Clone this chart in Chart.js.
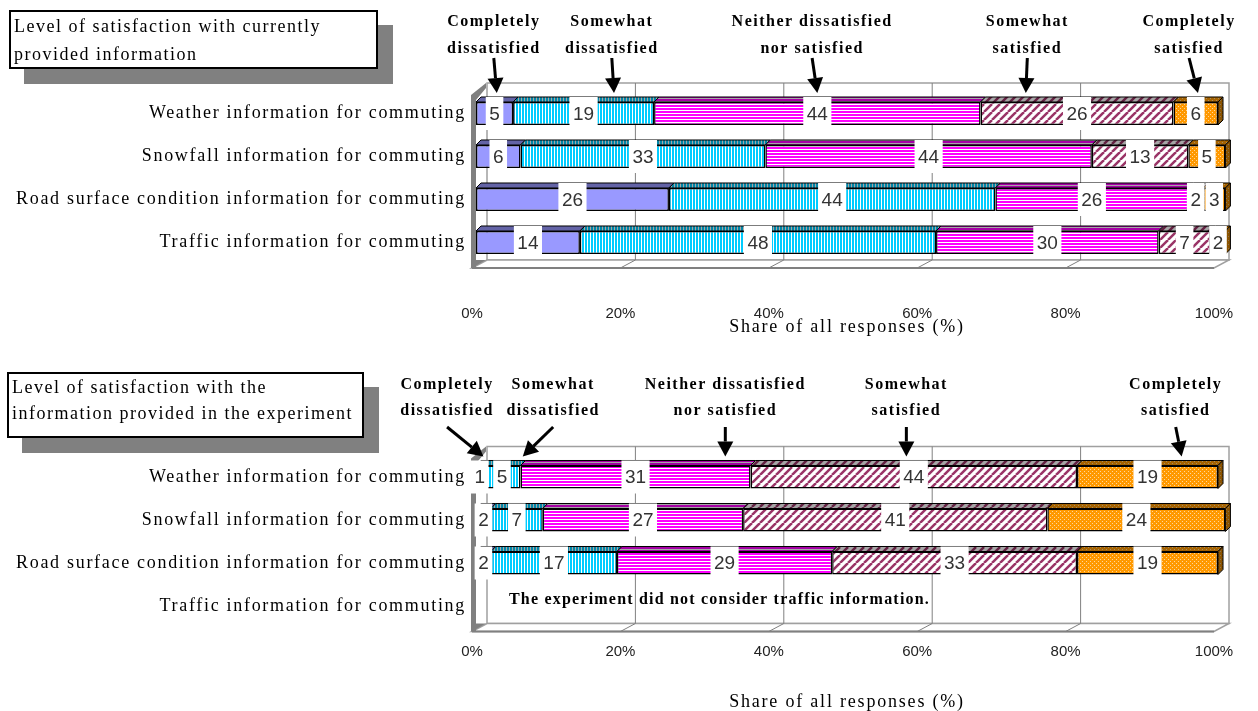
<!DOCTYPE html>
<html>
<head>
<meta charset="utf-8">
<title>Satisfaction with commuting information</title>
<script src="https://cdn.jsdelivr.net/npm/chart.js@4.4.0/dist/chart.umd.min.js"></script>
<style>
  html, body { margin: 0; padding: 0; background: #fff; }
  body { width: 1258px; height: 711px; position: relative; overflow: hidden; }
  .panel { position: absolute; left: 0; width: 1258px; }
  .panel canvas { display: block; }
  .title-box {
    position: absolute; z-index: 2; box-sizing: border-box;
    background: #fff; border: 2px solid #000; box-shadow: 15px 15px 0 #808080;
    font: 18px 'Liberation Serif', serif; letter-spacing: 1.5px; line-height: 28px;
    padding: 0 0 0 3px; color: #000; white-space: nowrap;
  }
</style>
</head>
<body>
<div class="panel" style="top:0;height:345px"><canvas id="chart-current" width="1258" height="345"></canvas></div>
<div class="panel" style="top:355px;height:356px"><canvas id="chart-experiment" width="1258" height="356"></canvas></div>
<div class="title-box" id="title-current" style="left:9px;top:10px;width:369px;height:59px;"></div>
<div class="title-box" id="title-experiment" style="left:7px;top:372px;width:357px;height:66px;line-height:26px;"></div>
<script>
  // Categories / levels
  const categories = [
    'Weather information for commuting',
    'Snowfall information for commuting',
    'Road surface condition information for commuting',
    'Traffic information for commuting'
  ];
  const levels = ['Completely dissatisfied', 'Somewhat dissatisfied', 'Neither dissatisfied nor satisfied', 'Somewhat satisfied', 'Completely satisfied'];
  const levelCaptions = [
    ['Completely', 'dissatisfied'],
    ['Somewhat', 'dissatisfied'],
    ['Neither dissatisfied', 'nor satisfied'],
    ['Somewhat', 'satisfied'],
    ['Completely', 'satisfied']
  ];
  const xTicks = [0, 20, 40, 60, 80, 100];

  // Currently provided information (% of responses)
  const curCompletelyDissatisfied = [5, 6, 26, 14];
  const curSomewhatDissatisfied = [19, 33, 44, 48];
  const curNeither = [44, 44, 26, 30];
  const curSomewhatSatisfied = [26, 13, 2, 7];
  const curCompletelySatisfied = [6, 5, 3, 2];

  // Information provided in the experiment (% of responses), traffic not covered
  const expCompletelyDissatisfied = [1, 2, 2, null];
  const expSomewhatDissatisfied = [5, 7, 17, null];
  const expNeither = [31, 27, 29, null];
  const expSomewhatSatisfied = [44, 41, 33, null];
  const expCompletelySatisfied = [19, 24, 19, null];

  // where the level captions and arrow tips sit, in % along the x axis
  const curCaptionAt = [2.4, 18.3, 45.3, 74.3, 96.1];
  const curArrowAt = [2.8, 18.6, 46.0, 74.1, 97.3];
  const expCaptionAt = [-3.9, 10.4, 33.6, 58.0, 94.3];
  const expArrowAt = [1.0, 6.3, 33.6, 58.0, 95.1];

  const curTitle = ['Level of satisfaction with currently', 'provided information'];
  const expTitle = ['Level of satisfaction with the', 'information provided in the experiment'];
  const axisTitle = 'Share of all responses (%)';
  const noTrafficNote = 'The experiment did not consider traffic information.';

  document.getElementById('title-current').innerHTML = curTitle.join('<br>');
  document.getElementById('title-experiment').innerHTML = expTitle.join('<br>');

  const SERIF = '"Liberation Serif", "DejaVu Serif", serif';
  const SANS = '"Liberation Sans", Arial, sans-serif';

  // fills: plain periwinkle, striped cyan, striped magenta, hatched, dotted orange
  function makeFill(ctx, kind) {
    if (kind === 0) return '#9999ff';
    const c = document.createElement('canvas');
    const p = c.getContext('2d');
    if (kind === 1) {
      c.width = 3; c.height = 1;
      p.fillStyle = '#00ccff'; p.fillRect(0, 0, 2, 1);
      p.fillStyle = '#ffffff'; p.fillRect(2, 0, 1, 1);
    } else if (kind === 2) {
      c.width = 1; c.height = 3;
      p.fillStyle = '#ff00ff'; p.fillRect(0, 0, 1, 2);
      p.fillStyle = '#ffffff'; p.fillRect(0, 2, 1, 1);
    } else if (kind === 3) {
      c.width = 8; c.height = 8;
      p.fillStyle = '#ffffff'; p.fillRect(0, 0, 8, 8);
      p.strokeStyle = '#993366'; p.lineWidth = 2.5;
      [-8, 0, 8].forEach(k => { p.beginPath(); p.moveTo(k, 8); p.lineTo(k + 8, 0); p.stroke(); });
    } else {
      c.width = 4; c.height = 4;
      p.fillStyle = '#ff9900'; p.fillRect(0, 0, 4, 4);
      p.fillStyle = 'rgba(255,255,255,0.6)'; p.fillRect(0, 0, 1, 1); p.fillRect(2, 2, 1, 1);
    }
    return ctx.createPattern(c, 'repeat');
  }

  function poly(ctx, pts) {
    ctx.beginPath();
    pts.forEach(([x, y], i) => (i ? ctx.lineTo(x, y) : ctx.moveTo(x, y)));
    ctx.closePath();
  }

  function arrow(ctx, x0, y0, x1, y1) {
    const len = Math.hypot(x1 - x0, y1 - y0);
    const ux = (x1 - x0) / len, uy = (y1 - y0) / len;
    const head = 15, half = 8;
    ctx.strokeStyle = '#000'; ctx.fillStyle = '#000'; ctx.lineWidth = 3;
    ctx.beginPath(); ctx.moveTo(x0, y0); ctx.lineTo(x1 - ux * head, y1 - uy * head); ctx.stroke();
    const bx = x1 - ux * head, by = y1 - uy * head;
    poly(ctx, [[x1, y1], [bx - uy * half, by + ux * half], [bx + uy * half, by - ux * half]]);
    ctx.fill();
  }

  // pseudo-3D walls, bar faces, value boxes, captions
  const panel3d = {
    id: 'panel3d',
    beforeDatasetsDraw(chart) {
      const { ctx, chartArea: a } = chart;
      const xs = chart.scales.x;
      const fx = -4, bx = 11;
      const backTop = a.top - 9, backBottom = a.bottom - 4, frontBottom = a.bottom + 4;
      ctx.save();
      ctx.strokeStyle = '#a0a0a0'; ctx.lineWidth = 1.5;
      ctx.strokeRect(a.left + bx, backTop, a.right - a.left, backBottom - backTop);
      poly(ctx, [[a.left + fx, frontBottom], [a.left + bx, backBottom], [a.right + bx, backBottom], [a.right + fx, frontBottom]]);
      ctx.fillStyle = '#fff'; ctx.fill(); ctx.stroke();
      ctx.strokeStyle = '#808080'; ctx.lineWidth = 1;
      xTicks.slice(1, -1).forEach(v => {
        const x = xs.getPixelForValue(v);
        ctx.beginPath();
        ctx.moveTo(x + bx, backTop); ctx.lineTo(x + bx, backBottom); ctx.lineTo(x + fx, frontBottom);
        ctx.stroke();
      });
      // left wall
      ctx.fillStyle = '#808080';
      poly(ctx, [[a.left - 5, a.top + 3], [a.left + 10, backTop], [a.left + 10, backTop + 5], [a.left, a.top + 8], [a.left, frontBottom], [a.left - 5, frontBottom]]);
      ctx.fill();
      poly(ctx, [[a.left - 4, frontBottom], [a.left + 10, backBottom], [a.left - 4, backBottom]]);
      ctx.fill();
      ctx.strokeStyle = '#808080'; ctx.lineWidth = 2;
      ctx.beginPath(); ctx.moveTo(a.left + fx, frontBottom); ctx.lineTo(a.right + fx, frontBottom); ctx.stroke();
      ctx.restore();
    },
    afterDatasetsDraw(chart, args, opts) {
      const { ctx } = chart;
      const d = 5;
      const last = chart.data.datasets.length - 1;
      ctx.save();
      ctx.strokeStyle = '#000'; ctx.lineWidth = 1;
      chart.data.datasets.forEach((ds, di) => {
        chart.getDatasetMeta(di).data.forEach((el, i) => {
          if (ds.data[i] == null) return;
          const { x, y, base, height } = el.getProps(['x', 'y', 'base', 'height'], true);
          const l = Math.min(x, base), r = Math.max(x, base);
          const t = y - height / 2, b = y + height / 2;
          const faces = [[[l, t], [l + d, t - d], [r + d, t - d], [r, t]]];
          if (di === last) faces.push([[r, t], [r + d, t - d], [r + d, b - d], [r, b]]);
          faces.forEach((f, fi) => {
            poly(ctx, f);
            ctx.fillStyle = ds.backgroundColor; ctx.fill();
            ctx.fillStyle = fi ? 'rgba(0,0,0,0.45)' : 'rgba(0,0,0,0.35)'; ctx.fill();
            ctx.stroke();
          });
        });
      });
      // value boxes
      ctx.font = '19px ' + SANS;
      ctx.textAlign = 'center'; ctx.textBaseline = 'middle';
      chart.data.datasets.forEach((ds, di) => {
        chart.getDatasetMeta(di).data.forEach((el, i) => {
          const v = ds.data[i];
          if (v == null) return;
          const { x, y, base } = el.getProps(['x', 'y', 'base'], true);
          const cx = (x + base) / 2;
          const txt = String(v);
          const w = ctx.measureText(txt).width + 7;
          ctx.fillStyle = '#fff';
          ctx.fillRect(cx - w / 2, y - opts.boxH / 2, w, opts.boxH);
          ctx.fillStyle = '#333';
          ctx.fillText(txt, cx, y + 1);
        });
      });
      ctx.restore();
    },
    afterDraw(chart, args, opts) {
      const { ctx, chartArea: a } = chart;
      const xs = chart.scales.x, ys = chart.scales.y;
      ctx.save();
      ctx.fillStyle = '#000';
      ctx.textBaseline = 'middle';
      // category labels
      ctx.font = '18px ' + SERIF;
      ctx.letterSpacing = '1.7px';
      ctx.textAlign = 'right';
      categories.forEach((c, i) => ctx.fillText(c, a.left - 10, ys.getPixelForValue(i)));
      // level captions and arrows
      ctx.font = 'bold 16px ' + SERIF;
      ctx.letterSpacing = '1.5px';
      ctx.textAlign = 'center';
      levelCaptions.forEach((lines, k) => {
        const cx = xs.getPixelForValue(opts.captionAt[k]);
        ctx.fillStyle = '#000';
        lines.forEach((ln, j) => ctx.fillText(ln, cx, opts.textY[j]));
        arrow(ctx, cx, opts.shaftY, xs.getPixelForValue(opts.arrowAt[k]), a.top + 1);
      });
      // axis title
      ctx.fillStyle = '#000';
      ctx.font = '18px ' + SERIF;
      ctx.letterSpacing = '1.8px';
      ctx.fillText(axisTitle, (a.left + a.right) / 2, opts.titleY);
      if (opts.note) {
        ctx.font = 'bold 16px ' + SERIF;
        ctx.letterSpacing = '1.2px';
        ctx.textAlign = 'left';
        ctx.fillText(opts.note, a.left + 33, ys.getPixelForValue(3) - 6);
      }
      ctx.restore();
    }
  };

  function buildChart(canvasId, series, style) {
    const canvas = document.getElementById(canvasId);
    const ctx = canvas.getContext('2d');
    return new Chart(canvas, {
      type: 'bar',
      data: {
        labels: categories,
        datasets: series.map((vals, k) => ({
          label: levels[k],
          data: vals,
          backgroundColor: makeFill(ctx, k),
          borderColor: '#000',
          borderWidth: 1.5,
          borderSkipped: false,
          clip: false,
          barPercentage: 0.535,
          categoryPercentage: 1
        }))
      },
      options: {
        indexAxis: 'y',
        responsive: false,
        animation: false,
        events: [],
        layout: { padding: { top: style.chartTop, right: 40, left: 0, bottom: 0 } },
        scales: {
          x: {
            stacked: true,
            min: 0,
            max: 100,
            afterBuildTicks: s => { s.ticks = xTicks.map(v => ({ value: v })); },
            // fixed axis band; the big label padding must not shrink the plot width
            afterFit: s => { s.height = style.xAxisHeight; s.paddingLeft = 0; s.paddingRight = 0; },
            ticks: {
              callback: v => v + '%',
              font: { family: 'Liberation Sans', size: 15 },
              color: '#222',
              padding: style.tickPad,
              labelOffset: -4,
              maxRotation: 0
            },
            grid: { display: false, drawTicks: false },
            border: { display: false }
          },
          y: {
            stacked: true,
            afterFit: s => { s.width = 476; },
            ticks: { display: false },
            grid: { display: false, drawTicks: false },
            border: { display: false }
          }
        },
        plugins: {
          legend: { display: false },
          tooltip: { enabled: false },
          panel3d: style.annot
        }
      },
      plugins: [panel3d]
    });
  }

  buildChart('chart-current',
    [curCompletelyDissatisfied, curSomewhatDissatisfied, curNeither, curSomewhatSatisfied, curCompletelySatisfied],
    {
      chartTop: 92, xAxisHeight: 81, tickPad: 41,
      annot: { captionAt: curCaptionAt, arrowAt: curArrowAt, textY: [22, 49], shaftY: 58, titleY: 327, boxH: 33, note: null }
    });

  buildChart('chart-experiment',
    [expCompletelyDissatisfied, expSomewhatDissatisfied, expNeither, expSomewhatSatisfied, expCompletelySatisfied],
    {
      chartTop: 100.5, xAxisHeight: 83.5, tickPad: 15,
      annot: { captionAt: expCaptionAt, arrowAt: expArrowAt, textY: [30, 56], shaftY: 72, titleY: 347, boxH: 33, note: noTrafficNote }
    });
</script>
</body>
</html>
